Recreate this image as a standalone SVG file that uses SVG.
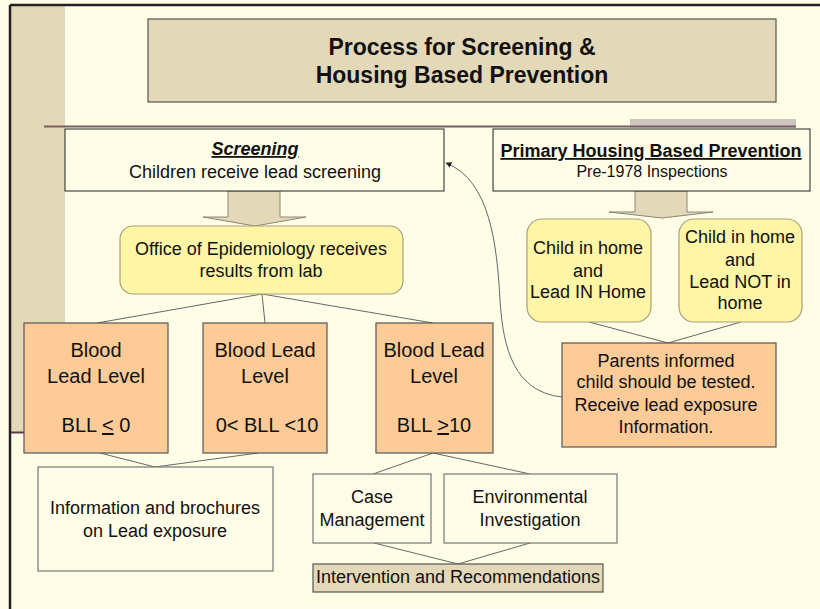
<svg xmlns="http://www.w3.org/2000/svg" width="820" height="609" viewBox="0 0 820 609">
<style>
text{font-family:"Liberation Sans",Arial,sans-serif;fill:#111;text-anchor:middle}
.t18{font-size:18px}
.t20{font-size:20px}
.t16{font-size:16px}
.plain{fill:#fffde8;stroke:#222;stroke-width:1}
.grey{fill:#fffde8;stroke:#777;stroke-width:1.2}
.peach{fill:#fdcb98;stroke:#555;stroke-width:1.2}
.yellow{fill:#fff5a6;stroke:#a8a07a;stroke-width:1.2}
.beige{fill:#e3d8b8;stroke:#555;stroke-width:1.2}
.conn{fill:none;stroke:#666;stroke-width:1}
.barrow{fill:#e3d8b8;stroke:#8c8678;stroke-width:1}
</style>
<defs>
<marker id="ah" viewBox="0 0 10 10" refX="9" refY="5" markerWidth="6" markerHeight="6" orient="auto" markerUnits="userSpaceOnUse">
<path d="M0,0 L10,5 L0,10 z" fill="#222"/>
</marker>
</defs>
<rect x="0" y="0" width="820" height="609" fill="#fffde6"/>
<rect x="11" y="6" width="54" height="426" fill="#e3d8b8"/>
<line x1="11" y1="432.5" x2="25" y2="432.5" stroke="#5a3a48" stroke-width="2"/>
<line x1="10" y1="5" x2="820" y2="5" stroke="#222" stroke-width="2.5"/>
<line x1="10" y1="5" x2="10" y2="609" stroke="#222" stroke-width="2.5"/>
<rect x="630" y="119" width="166" height="9" fill="#cbc4bf"/>
<line x1="44" y1="126.5" x2="796" y2="126.5" stroke="#7a5c66" stroke-width="2"/>

<g id="title">
<rect x="148" y="19" width="628" height="83" class="beige"/>
<text x="462" y="55" style="font-size:23px;font-weight:bold">Process for Screening &amp;</text>
<text x="462" y="83" style="font-size:23px;font-weight:bold">Housing Based Prevention</text>
</g>

<g id="connectors">
<path class="barrow" d="M228,191 L280,191 L280,217 L306,217 L255,226 L203,217 L228,217 Z"/>
<path class="barrow" d="M635,191 L687,191 L687,212 L713,212 L662,218 L609,212 L635,212 Z"/>
<line class="conn" x1="262" y1="294" x2="97" y2="323"/>
<line class="conn" x1="262" y1="294" x2="265" y2="323"/>
<line class="conn" x1="262" y1="294" x2="433" y2="323"/>
<line class="conn" x1="100" y1="453" x2="155" y2="467"/>
<line class="conn" x1="258" y1="453" x2="155" y2="467"/>
<line class="conn" x1="433" y1="453" x2="373" y2="474"/>
<line class="conn" x1="433" y1="453" x2="530" y2="474"/>
<line class="conn" x1="374" y1="543" x2="458" y2="564"/>
<line class="conn" x1="530" y1="543" x2="458" y2="564"/>
<line class="conn" x1="589" y1="322" x2="668" y2="343"/>
<line class="conn" x1="741" y1="322" x2="668" y2="343"/>
<path class="conn" d="M562,397 C515,392 503,350 500,300 C497,245 490,180 446,163" marker-end="url(#ah)"/>
</g>

<g id="screening">
<rect x="65" y="129" width="379" height="62" class="plain"/>
<text x="255" y="155" class="t18" style="font-weight:bold;font-style:italic;text-decoration:underline">Screening</text>
<text x="255" y="178" class="t18">Children receive lead screening</text>
</g>

<g id="primary">
<rect x="493" y="129" width="317" height="62" class="plain"/>
<text x="651" y="157" class="t18" style="font-weight:bold;text-decoration:underline">Primary Housing Based Prevention</text>
<text x="652" y="177" class="t16">Pre-1978 Inspections</text>
</g>

<g id="office">
<rect x="120" y="226" width="283" height="68" rx="13" class="yellow"/>
<text x="261" y="255" class="t18">Office of Epidemiology receives</text>
<text x="261" y="277" class="t18">results from lab</text>
</g>

<g id="child1">
<rect x="527" y="219" width="124" height="103" rx="15" class="yellow"/>
<text x="588" y="254" class="t18">Child in home</text>
<text x="588" y="277" class="t18">and</text>
<text x="588" y="298" class="t18">Lead IN Home</text>
</g>

<g id="child2">
<rect x="679" y="219" width="123" height="103" rx="15" class="yellow"/>
<text x="740" y="243" class="t18">Child in home</text>
<text x="740" y="266" class="t18">and</text>
<text x="740" y="288" class="t18">Lead NOT in</text>
<text x="740" y="309" class="t18">home</text>
</g>

<g id="parents">
<rect x="562" y="343" width="214" height="104" class="peach"/>
<text x="666" y="367" class="t18">Parents informed</text>
<text x="666" y="388" class="t18">child should be tested.</text>
<text x="666" y="411" class="t18">Receive lead exposure</text>
<text x="666" y="433" class="t18">Information.</text>
</g>

<g id="bll1">
<rect x="24" y="323" width="144" height="130" class="peach"/>
<text x="96" y="357" class="t20">Blood</text>
<text x="96" y="383" class="t20">Lead Level</text>
<text x="96" y="432" class="t20">BLL <tspan text-decoration="underline">&lt;</tspan> 0</text>
</g>

<g id="bll2">
<rect x="203" y="323" width="124" height="130" class="peach"/>
<text x="265" y="357" class="t20">Blood Lead</text>
<text x="265" y="383" class="t20">Level</text>
<text x="267" y="432" class="t20">0&lt; BLL &lt;10</text>
</g>

<g id="bll3">
<rect x="376" y="323" width="117" height="130" class="peach"/>
<text x="434" y="357" class="t20">Blood Lead</text>
<text x="434" y="383" class="t20">Level</text>
<text x="434" y="432" class="t20">BLL <tspan text-decoration="underline">&gt;</tspan>10</text>
</g>

<g id="info">
<rect x="38" y="467" width="235" height="104" class="grey"/>
<text x="155" y="514" class="t18">Information and brochures</text>
<text x="155" y="537" class="t18">on Lead exposure</text>
</g>

<g id="case">
<rect x="313" y="474" width="118" height="69" class="grey"/>
<text x="372" y="503" class="t18">Case</text>
<text x="372" y="526" class="t18">Management</text>
</g>

<g id="env">
<rect x="444" y="474" width="173" height="69" class="grey"/>
<text x="530" y="503" class="t18">Environmental</text>
<text x="530" y="526" class="t18">Investigation</text>
</g>

<g id="intervention">
<rect x="313" y="564" width="290" height="28" class="beige"/>
<text x="458" y="583" class="t18">Intervention and Recommendations</text>
</g>
</svg>
